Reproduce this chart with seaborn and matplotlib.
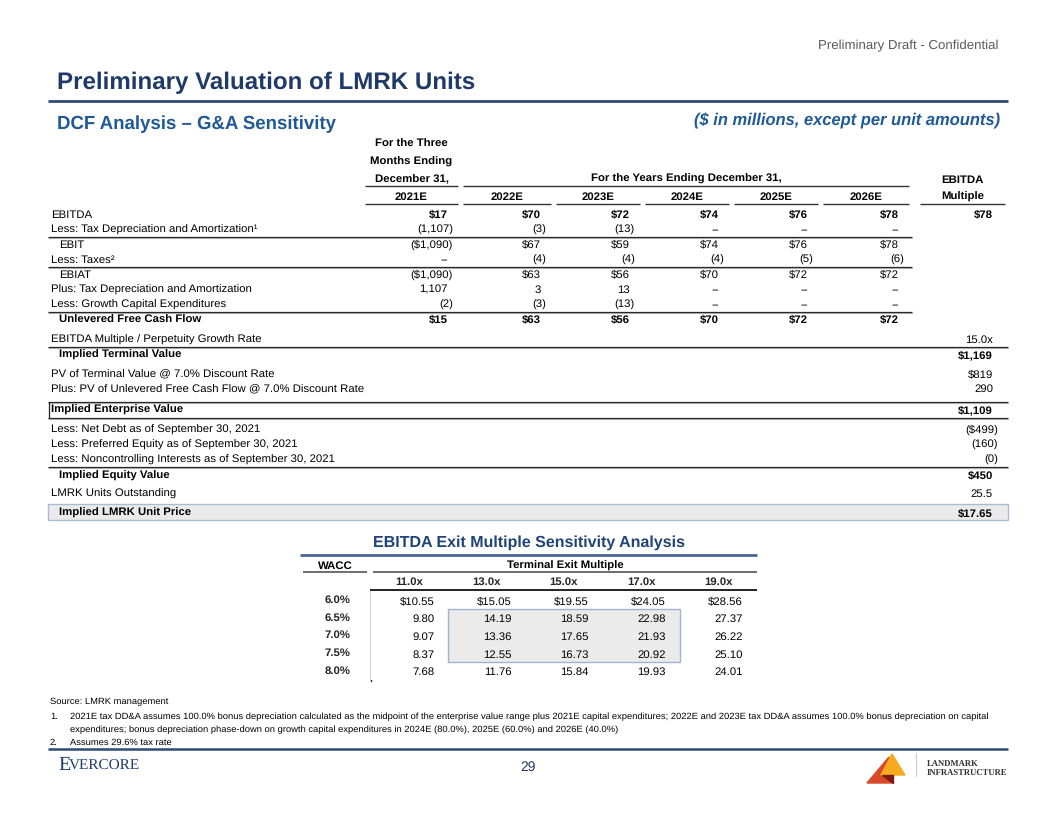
import numpy as np
import pandas as pd
import matplotlib
matplotlib.use('Agg')
import matplotlib.pyplot as plt
from matplotlib.colors import ListedColormap
from matplotlib.patches import Rectangle, Polygon
import seaborn as sns

# ---- data ----
years = ['2021E', '2022E', '2023E', '2024E', '2025E', '2026E']
ebitda = [17, 70, 72, 74, 76, 78]
tax_da = [-1107, -3, -13, None, None, None]
ebit = [-1090, 67, 59, 74, 76, 78]
taxes = [None, -4, -4, -4, -5, -6]
ebiat = [-1090, 63, 56, 70, 72, 72]
plus_da = [1107, 3, 13, None, None, None]
growth_capex = [-2, -3, -13, None, None, None]
ufcf = [15, 63, 56, 70, 72, 72]
terminal_ebitda = 78

exit_multiple = 15.0
terminal_value = 1169
pv_terminal = 819
pv_fcf = 290
enterprise_value = 1109
net_debt = -499
preferred = -160
noncontrolling = -0.2
equity_value = 450
units_out = 25.5
unit_price = 17.65

wacc = ['6.0%', '6.5%', '7.0%', '7.5%', '8.0%']
multiples = ['11.0x', '13.0x', '15.0x', '17.0x', '19.0x']
prices = [[10.55, 15.05, 19.55, 24.05, 28.56],
          [9.80, 14.19, 18.59, 22.98, 27.37],
          [9.07, 13.36, 17.65, 21.93, 26.22],
          [8.37, 12.55, 16.73, 20.92, 25.10],
          [7.68, 11.76, 15.84, 19.93, 24.01]]

sns.set_theme(style='white')
plt.rcParams['font.family'] = ['Liberation Sans', 'DejaVu Sans']
plt.rcParams['text.hinting'] = 'no_hinting'

NAVY = '#1f3a68'
BLUE = '#1f5a96'
FS = 8.2


def fmt(v, dollar=False, dec=0):
    if v is None:
        return '--'
    s = f'{abs(v):,.{dec}f}'
    if dollar:
        s = '$' + s
    return f'({s})' if v < 0 else s


fig = plt.figure(figsize=(10.56, 8.16), dpi=100)
bg = fig.add_axes([0, 0, 1, 1])
bg.set_xlim(0, 1056)
bg.set_ylim(816, 0)
bg.axis('off')


def txt(x, y, s, ha='left', bold=False, size=FS, color='black', **kw):
    # y is the visual centre of the capitals; place by baseline so rows line up
    bg.text(x, y + 0.5 * size, s, ha=ha, va='baseline', fontsize=size, color=color,
            fontweight='bold' if bold else 'normal', **kw)


def hline(x0, x1, y, color='black', lw=0.8):
    bg.plot([x0, x1], [y, y], color=color, lw=lw, solid_capstyle='butt')


def sepline(x0, x1, y):
    hline(x0, x1, y, '#222222', 0.9)
    hline(x0, x1, y + 1.3, '#a8a8a8', 0.8)


# ---- header ----
txt(998, 45, 'Preliminary Draft - Confidential', ha='right', size=9.5, color='#5a5a5a')
txt(57, 80, 'Preliminary Valuation of LMRK Units', bold=True, size=17.4, color=NAVY)
hline(48, 1008, 101, '#2e4a78', 2.0)
txt(57, 122, 'DCF Analysis \u2013 G&A Sensitivity', bold=True, size=13.4, color=BLUE)
txt(1000, 120, '($ in millions, except per unit amounts)', ha='right', bold=True,
    size=11.9, color=BLUE, style='italic')

# ---- DCF table ----
col_l = [365, 463, 556, 645, 734, 823]
col_r = [458, 551, 640, 729, 818, 909]
col_c = [(a + b) / 2 for a, b in zip(col_l, col_r)]
val_r = [r - 5 for r in col_r]
mult_l, mult_r = 920, 1005
mult_c = (mult_l + mult_r) / 2
last_r = 998

for s, y in [('For the Three', 143), ('Months Ending', 161), ('December 31,', 178)]:
    txt(col_c[0], y, s, ha='center', bold=True)
hline(col_l[0], col_r[0], 186, '#333333', 1.0)
txt((col_l[1] + col_r[-1]) / 2, 178, 'For the Years Ending December 31,', ha='center', bold=True)
hline(col_l[1], col_r[-1], 186, '#333333', 1.0)
txt(mult_c, 179, 'EBITDA', ha='center', bold=True)
txt(mult_c, 196, 'Multiple', ha='center', bold=True)
hline(mult_l, mult_r, 204, '#333333', 1.0)
for i, yr in enumerate(years):
    txt(col_c[i], 196, yr, ha='center', bold=True)
    hline(col_l[i], col_r[i], 204, '#333333', 1.0)

rows = [
    ('EBITDA', ebitda, True, False, True, 0),
    ('Less: Tax Depreciation and Amortization\u00b9', tax_da, False, False, False, 0),
    ('EBIT', ebit, True, False, False, 8),
    ('Less: Taxes\u00b2', taxes, False, False, False, 0),
    ('EBIAT', ebiat, True, False, False, 8),
    ('Plus: Tax Depreciation and Amortization', plus_da, False, False, False, 0),
    ('Less: Growth Capital Expenditures', growth_capex, False, False, False, 0),
    ('Unlevered Free Cash Flow', ufcf, True, True, True, 8),
]
row_y = 213.5
for label, vals, dollar, bold_lbl, bold_val, indent in rows:
    txt(51 + indent, row_y, label, bold=bold_lbl)
    for i, v in enumerate(vals):
        shift = 0 if (v is not None and v < 0) else 5
        txt(val_r[i] - shift, row_y, fmt(v, dollar), ha='right', bold=bold_val)
    row_y += 15
txt(last_r - 5, 213.5, fmt(terminal_ebitda, True), ha='right', bold=True)
for y in [236.5, 266.5, 311.5]:
    sepline(48, 912, y)

# ---- valuation summary ----
summary = [
    ('EBITDA Multiple / Perpetuity Growth Rate', f'{exit_multiple:.1f}x', False, 0, 339),
    ('Implied Terminal Value', fmt(terminal_value, True), True, 8, 354),
    ('PV of Terminal Value @ 7.0% Discount Rate', fmt(pv_terminal, True), False, 0, 373),
    ('Plus: PV of Unlevered Free Cash Flow @ 7.0% Discount Rate', fmt(pv_fcf), False, 0, 388),
    ('Implied Enterprise Value', fmt(enterprise_value, True), True, 0, 409),
    ('Less: Net Debt as of September 30, 2021', fmt(net_debt, True), False, 0, 429),
    ('Less: Preferred Equity as of September 30, 2021', fmt(preferred), False, 0, 444),
    ('Less: Noncontrolling Interests as of September 30, 2021', fmt(noncontrolling), False, 0, 459),
    ('Implied Equity Value', fmt(equity_value, True), True, 8, 474.5),
    ('LMRK Units Outstanding', f'{units_out:.1f}', False, 0, 493),
    ('Implied LMRK Unit Price', f'${unit_price:.2f}', True, 8, 512),
]
bg.add_patch(Rectangle((48, 503.5), 960, 16.5, facecolor='#ebebeb',
                       edgecolor='#a9bcd4', lw=1.0))
sepline(48, 1008, 346.5)
sepline(48, 1008, 466.5)
hline(48, 1008, 401.5, '#222222', 0.9)
hline(48, 1008, 403, '#a8a8a8', 0.8)
hline(48, 1008, 417.5, '#222222', 0.9)
hline(48, 1008, 419, '#a8a8a8', 0.8)
bg.plot([48.5, 48.5], [401.5, 417.5], color='#222222', lw=0.9)
for label, s, bold, indent, y in summary:
    txt(51 + indent, y, label, bold=bold)
    shift = 0 if s.startswith('(') else 5
    txt(last_r - shift, y, s, ha='right', bold=bold)

# ---- sensitivity table ----
txt(529, 541, 'EBITDA Exit Multiple Sensitivity Analysis', ha='center', bold=True,
    size=11.5, color='#1f4478')
hline(300, 757, 555, '#4a6690', 2.0)
txt(335, 565, 'WACC', ha='center', bold=True)
hline(303, 367, 572, '#555555', 1.2)
txt(565, 565, 'Terminal Exit Multiple', ha='center', bold=True)
hline(373, 757, 572, '#555555', 1.2)
hline(370, 757, 589.5, '#222222', 1.4)
bg.plot([370.5, 370.5], [589.5, 681], color='#222222', lw=1.0)

sens = pd.DataFrame(prices, index=wacc, columns=multiples)
labels = sens.copy().astype(object)
for i in range(len(wacc)):
    for j in range(len(multiples)):
        v = prices[i][j]
        labels.iloc[i, j] = f'${v:.2f}' if i == 0 else f'{v:.2f}'

hax = fig.add_axes([371 / 1056, 1 - 680 / 816, 386 / 1056, 89 / 816])
sns.heatmap(sens, ax=hax, cmap=ListedColormap(['white']), cbar=False,
            annot=labels.values, fmt='', annot_kws={'fontsize': FS, 'color': 'black'},
            linewidths=0, xticklabels=multiples, yticklabels=wacc)
for t in hax.texts:
    x, y = t.get_position()
    t.set_ha('right')
    t.set_va('baseline')
    t.set_position((x + 0.32, y + 0.23))
hax.add_patch(Rectangle((1, 1), 3, 3, facecolor='#ebebeb', edgecolor='#9fb4d0',
                        lw=1.0, zorder=2))
hax.xaxis.tick_top()
hax.tick_params(axis='x', length=0, pad=2.5, labelsize=FS)
hax.tick_params(axis='y', length=0, pad=15, labelsize=FS, rotation=0)
for lab in hax.get_xticklabels() + hax.get_yticklabels():
    lab.set_fontweight('bold')
hax.set_xlabel('')
hax.set_ylabel('')
for sp in hax.spines.values():
    sp.set_visible(False)

# ---- footnotes ----
FN = 6.75
txt(50, 701, 'Source: LMRK management', size=FN)
txt(50, 716, '1.', size=FN)
txt(70, 716, '2021E tax DD&A assumes 100.0% bonus depreciation calculated as the midpoint of the '
    'enterprise value range plus 2021E capital expenditures; 2022E and 2023E tax DD&A assumes '
    '100.0% bonus depreciation on capital', size=FN)
txt(70, 729, 'expenditures; bonus depreciation phase-down on growth capital expenditures in '
    '2024E (80.0%), 2025E (60.0%) and 2026E (40.0%)', size=FN)
txt(50, 742, '2.', size=FN)
txt(70, 742, 'Assumes 29.6% tax rate', size=FN)
hline(48, 1008, 749, '#2e4a78', 1.8)

# ---- footer ----
bg.text(58, 770, 'E', fontsize=14.5, family='Liberation Serif', color=NAVY, va='baseline')
bg.text(69, 770, 'VERCORE', fontsize=11, family='Liberation Serif', color=NAVY, va='baseline')
txt(528, 766, '29', ha='center', size=10, color=NAVY)
bg.add_patch(Polygon([(889, 757), (893, 783), (867, 783)], closed=True, color='#d9482a'))
bg.add_patch(Polygon([(892, 754), (905, 775), (881, 775)], closed=True, color='#f6ab1f'))
bg.add_patch(Polygon([(882, 775), (893, 775), (893, 783)], closed=True, color='#7c1a12'))
bg.plot([916, 916], [753, 776], color='#cccccc', lw=0.8)
bg.text(927, 766, 'LANDMARK', fontsize=6.2, family='Liberation Serif', color='#333333',
        va='baseline', fontweight='bold')
bg.text(927, 776, 'INFRASTRUCTURE', fontsize=6.2, family='Liberation Serif', color='#333333',
        va='baseline', fontweight='bold')

fig.savefig('out.png', dpi=100, facecolor='white')
